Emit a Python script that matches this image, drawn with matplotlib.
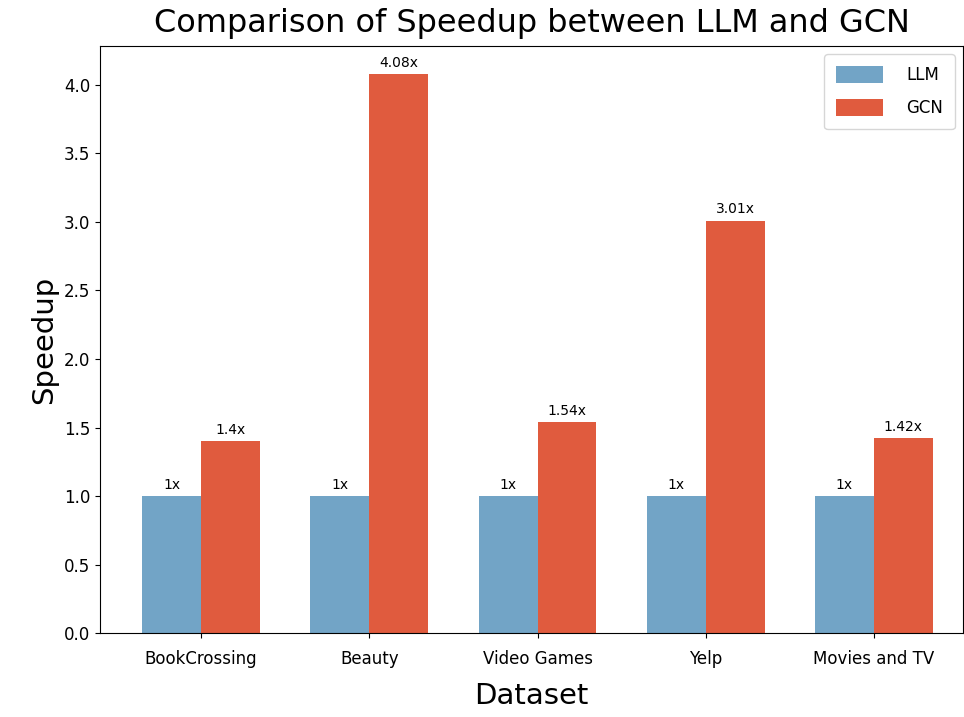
import matplotlib
matplotlib.use("Agg")
import matplotlib.pyplot as plt
import numpy as np

datasets = ["BookCrossing", "Beauty", "Video Games", "Yelp", "Movies and TV"]
llm_speedup = [1, 1, 1, 1, 1]
gcn_speedup = [1.4, 4.08, 1.54, 3.01, 1.42]
llm_labels = ["1x", "1x", "1x", "1x", "1x"]
gcn_labels = ["1.4x", "4.08x", "1.54x", "3.01x", "1.42x"]

BLUE = "#72A4C6"
RED = "#E05B3E"

plt.rcParams.update({"font.family": ["DejaVu Sans"]})

fig = plt.figure(figsize=(9.64, 7.17), dpi=100)
ax = fig.add_axes([0.104, 0.117, 0.895, 0.819])

x = np.arange(len(datasets))
width = 0.35
b1 = ax.bar(x - width / 2, llm_speedup, width, color=BLUE, label="LLM")
b2 = ax.bar(x + width / 2, gcn_speedup, width, color=RED, label="GCN")

for bars, labels in ((b1, llm_labels), (b2, gcn_labels)):
    for bar, lab in zip(bars, labels):
        ax.annotate(lab, (bar.get_x() + bar.get_width() / 2, bar.get_height()),
                    xytext=(0, 3), textcoords="offset points",
                    ha="center", va="bottom", fontsize=10)

ax.set_xlim(-0.6, 4.53)
ax.set_ylim(0, 4.284)
ax.set_xticks(x, datasets, fontsize=12)
ax.tick_params(axis="x", pad=9)
ax.tick_params(axis="y", labelsize=12)
ax.set_xlabel("Dataset", fontsize=21, labelpad=10)
ax.set_ylabel("Speedup", fontsize=21)
ax.set_title("Comparison of Speedup between LLM and GCN", fontsize=23, pad=10)
ax.legend(fontsize=12, loc="upper right", labelspacing=0.9,
          handlelength=2.8, handleheight=1.2, borderpad=0.7, handletextpad=1.4)

fig.savefig("out.png", dpi=100)
